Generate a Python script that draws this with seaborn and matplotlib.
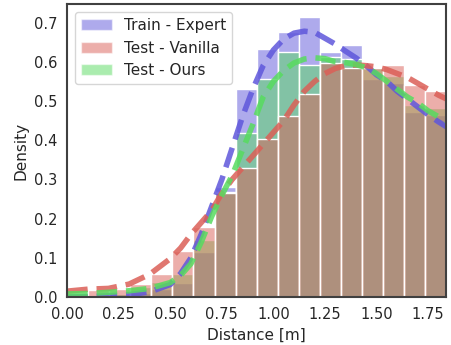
import numpy as np
import matplotlib
matplotlib.use("Agg")
import matplotlib.pyplot as plt
from matplotlib.patches import Patch
import seaborn as sns

# histogram densities per bin (18 bins from 0 to ~1.84 m)
bin_centers = [0.05, 0.15, 0.25, 0.36, 0.46, 0.56, 0.66, 0.76, 0.87,
               0.97, 1.07, 1.17, 1.28, 1.38, 1.48, 1.58, 1.68, 1.79]
expert_hist = [0.003, 0.004, 0.008, 0.010, 0.020, 0.036, 0.116, 0.280, 0.530,
               0.632, 0.677, 0.715, 0.624, 0.643, 0.556, 0.545, 0.473, 0.464]
vanilla_hist = [0.010, 0.017, 0.020, 0.033, 0.059, 0.117, 0.178, 0.266, 0.328,
                0.403, 0.462, 0.519, 0.596, 0.583, 0.583, 0.592, 0.541, 0.525]
ours_hist = [0.004, 0.005, 0.008, 0.026, 0.039, 0.060, 0.145, 0.268, 0.418,
             0.555, 0.626, 0.591, 0.613, 0.607, 0.583, 0.565, 0.490, 0.482]

# density curves (dashed)
curve_x = [0.0, 0.1, 0.2, 0.3, 0.4, 0.5, 0.55, 0.6, 0.65, 0.7, 0.75, 0.8, 0.85,
           0.9, 0.95, 1.0, 1.05, 1.1, 1.15, 1.2, 1.25, 1.3, 1.35, 1.4, 1.45,
           1.5, 1.55, 1.6, 1.65, 1.7, 1.75, 1.8, 1.84]
expert_kde = [0.0, 0.001, 0.003, 0.006, 0.013, 0.032, 0.060, 0.100, 0.160, 0.230,
              0.300, 0.380, 0.460, 0.530, 0.590, 0.630, 0.658, 0.673, 0.678,
              0.675, 0.660, 0.645, 0.627, 0.610, 0.590, 0.567, 0.550, 0.525,
              0.505, 0.485, 0.465, 0.447, 0.434]
vanilla_kde = [0.015, 0.020, 0.022, 0.033, 0.058, 0.098, 0.125, 0.160, 0.190,
               0.220, 0.265, 0.300, 0.330, 0.360, 0.390, 0.420, 0.450, 0.490,
               0.525, 0.550, 0.570, 0.583, 0.590, 0.592, 0.590, 0.587, 0.580,
               0.570, 0.560, 0.545, 0.530, 0.515, 0.505]
ours_kde = [0.008, 0.009, 0.012, 0.016, 0.022, 0.037, 0.055, 0.085, 0.140, 0.205,
            0.260, 0.310, 0.375, 0.440, 0.510, 0.550, 0.578, 0.597, 0.607,
            0.610, 0.608, 0.600, 0.598, 0.593, 0.585, 0.570, 0.550, 0.530,
            0.510, 0.495, 0.475, 0.460, 0.450]

labels = ["Train - Expert", "Test - Vanilla", "Test - Ours"]

sns.set_style("white")
pal = sns.color_palette("hls", 3)
red, green, blue = pal[0], pal[1], pal[2]

fig = plt.figure(figsize=(4.51, 3.45), dpi=100)
ax = fig.add_axes([0.149, 0.139, 0.840, 0.849])

x_max = 1.837
# drawing order blue, green, red gives the brown overlap
for vals, col in [(expert_hist, blue), (ours_hist, green), (vanilla_hist, red)]:
    sns.histplot(x=bin_centers, weights=vals, bins=18, binrange=(0, x_max),
                 stat="count", color=col, alpha=0.5, edgecolor="white",
                 linewidth=1, ax=ax)

for vals, col in [(expert_kde, blue), (vanilla_kde, red), (ours_kde, green)]:
    sns.lineplot(x=curve_x, y=vals, color=col, lw=4, ls="--", alpha=0.85, ax=ax)

ax.set_xlim(0, x_max)
ax.set_ylim(0, 0.747)
ax.set_xticks(np.arange(0, 1.8, 0.25))
ax.set_xlabel("Distance [m]", fontsize=11)
ax.set_ylabel("Density", fontsize=11)
ax.tick_params(labelsize=10.5)
for sp in ax.spines.values():
    sp.set_color("0.25")
    sp.set_linewidth(1.5)

handles = [Patch(facecolor=c, alpha=0.5) for c in (blue, red, green)]
ax.legend(handles, labels, loc="upper left", fontsize=11)

fig.savefig("out.png", dpi=100)
